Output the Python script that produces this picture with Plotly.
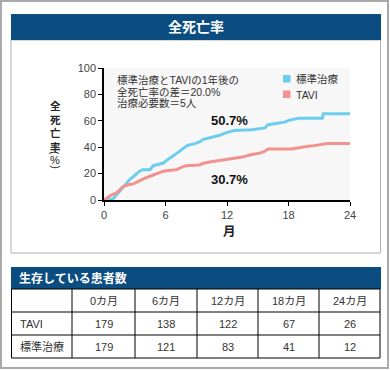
import plotly.graph_objects as go

# ---- data ----
std_months = [0, 0.5, 0.9, 1.2, 1.5, 1.8, 2.1, 2.5, 2.9, 3.2, 3.5, 3.8, 4.5, 4.8, 5.5, 5.8, 6.1, 6.5, 6.9,
              7.4, 7.8, 8.2, 8.8, 9.3, 9.7, 10.2, 10.8, 11.3, 11.8, 12.3, 12.7, 14.4, 15.0, 15.7, 16.0,
              16.8, 17.6, 18.1, 18.6, 19.0, 21.3, 21.4, 24]
std_rate = [0, 0, 1, 4, 6.5, 9, 12, 15.5, 18, 20, 22, 23, 23, 26, 27, 28, 30, 32, 34.5,
            37, 39.5, 41.5, 42.5, 44, 46, 47, 48, 49, 50.7, 52, 52.6, 53.3, 54, 54.6, 57,
            58, 59, 60.5, 61.5, 62, 62, 65.4, 65.4]
tavi_months = [0, 0.4, 0.75, 1.1, 1.4, 1.7, 1.9, 2.4, 2.85, 3.2, 3.5, 4.0, 4.5, 5.2, 5.8, 6.5, 7.1, 7.5,
               8.0, 9.3, 9.8, 10.3, 10.8, 11.5, 12.1, 12.7, 13.5, 14.4, 15.2, 15.7, 16.0, 18.3, 18.8,
               19.9, 20.5, 21.2, 21.8, 24]
tavi_rate = [0, 2, 4, 5, 6.5, 9, 10.3, 11.5, 12.2, 13.5, 14.7, 16.5, 18, 20, 21.8, 22.5, 23, 24.5,
             26, 26.5, 28, 28.8, 29.4, 30, 30.7, 31.9, 32.5, 34.4, 35.5, 36.9, 38.7, 38.7, 39.5,
             40.7, 41.2, 42, 42.8, 42.8]
x_ticks = [0, 6, 12, 18, 24]
y_ticks = [0, 20, 40, 60, 80, 100]
series_names = ["標準治療", "TAVI"]
note_lines = ["標準治療とTAVIの1年後の", "全死亡率の差＝20.0%", "治療必要数＝5人"]
label_std = "50.7%"
label_tavi = "30.7%"
y_title_chars = ["全", "死", "亡", "率"]
table_cols = ["0カ月", "6カ月", "12カ月", "18カ月", "24カ月"]
table_rows = ["TAVI", "標準治療"]
table_vals = [[179, 138, 122, 67, 26], [179, 121, 83, 41, 12]]

C_STD = "#6dcdee"
C_TAVI = "#f1928f"
BLUE = "#0b4d80"
FONT = "Liberation Sans, Noto Sans CJK JP, sans-serif"
TXT = "#333333"

W, H = 390, 370
L, R, T, B = 104, 350, 68, 200


def px(x):
    return (x - L) / (R - L)


def py(y):
    return (B - y) / (B - T)


fig = go.Figure()
fig.add_trace(go.Scatter(x=std_months, y=std_rate, mode="lines", name=series_names[0],
                         line=dict(color=C_STD, width=3), showlegend=False))
fig.add_trace(go.Scatter(x=tavi_months, y=tavi_rate, mode="lines", name=series_names[1],
                         line=dict(color=C_TAVI, width=3), showlegend=False))

shapes = []
ann = []


def rect(x0, y0, x1, y1, **kw):
    shapes.append(dict(type="rect", xref="paper", yref="paper", x0=px(x0), x1=px(x1),
                       y0=py(y0), y1=py(y1), **kw))


def line(x0, y0, x1, y1, color="#000", width=1):
    shapes.append(dict(type="line", xref="paper", yref="paper", x0=px(x0), x1=px(x1),
                       y0=py(y0), y1=py(y1), line=dict(color=color, width=width)))


def text(x, y, s, size=11, color=TXT, xanchor="left", bold=False, angle=0):
    if bold:
        s = "<b>" + s + "</b>"
    ann.append(dict(xref="paper", yref="paper", x=px(x), y=py(y), text=s, showarrow=False,
                    xanchor=xanchor, yanchor="middle", textangle=angle, borderpad=0,
                    font=dict(size=size, color=color, family=FONT)))


# outer border
rect(1, 1, 388, 368, line=dict(color="#aaaaaa", width=2))
# upper panel
rect(11, 40, 380.5, 253, line=dict(color="#b0b0b0", width=1))
rect(11, 14, 381, 40, fillcolor=BLUE, line=dict(width=0))
text(196, 27.5, "全死亡率", size=14, color="white", xanchor="center", bold=True)

# notes
for i, s in enumerate(note_lines):
    text(116, 80 + i * 11.7, s, size=10.5)
# legend
rect(283, 75, 290.5, 82.5, fillcolor=C_STD, line=dict(width=0))
rect(283, 90.5, 290.5, 98, fillcolor=C_TAVI, line=dict(width=0))
text(295, 79, series_names[0], size=10.5)
text(295, 94.5, series_names[1], size=10.5)
# value labels
text(210, 120.5, label_std, size=13, color="#111", bold=True)
text(210, 179, label_tavi, size=13, color="#111", bold=True)
# y title (vertical, stacked)
text(55, 126, "<br>".join(y_title_chars), size=10.5, color="#222", xanchor="center", bold=True)
text(55, 153, "(", size=10, color="#222", xanchor="center", angle=90)
text(55, 159.5, "%", size=11, color="#222", xanchor="center")
text(55, 166.5, ")", size=10, color="#222", xanchor="center", angle=90)
# x title
text(229.5, 232, "月", size=12.5, color="#222", xanchor="center", bold=True)

# lower table
rect(11, 267, 381, 289, fillcolor=BLUE, line=dict(width=0))
text(18, 278, "生存している患者数", size=12, color="white", bold=True)
col_x = [11.5, 72, 135, 197, 258, 319, 380]
row_y = [289, 312, 335, 358]
rect(col_x[0], row_y[0], col_x[-1], row_y[-1], line=dict(color="#000", width=1))
for cx in col_x[1:-1]:
    line(cx, row_y[0], cx, row_y[-1])
for ry in row_y[1:-1]:
    line(col_x[0], ry, col_x[-1], ry)
for j, c in enumerate(table_cols):
    text((col_x[j + 1] + col_x[j + 2]) / 2, (row_y[0] + row_y[1]) / 2, c, size=11, xanchor="center")
for i, rname in enumerate(table_rows):
    yc = (row_y[i + 1] + row_y[i + 2]) / 2
    text(19, yc, rname, size=11)
    for j, v in enumerate(table_vals[i]):
        text((col_x[j + 1] + col_x[j + 2]) / 2, yc, str(v), size=11, xanchor="center")

fig.update_layout(
    width=W, height=H,
    margin=dict(l=L, r=W - R, t=T, b=H - B, pad=0),
    paper_bgcolor="white", plot_bgcolor="#f7f7f7",
    shapes=shapes, annotations=ann,
    font=dict(family=FONT, size=11, color=TXT),
    xaxis=dict(range=[0, 24], tickvals=x_ticks, showline=True, linecolor="#000", linewidth=1.5,
               ticks="outside", ticklen=4, tickcolor="#000", showgrid=False, zeroline=False,
               tickfont=dict(size=11, color="#444"), fixedrange=True),
    yaxis=dict(range=[0, 100], tickvals=y_ticks, showline=True, linecolor="#000", linewidth=1.5,
               ticks="outside", ticklen=4, tickcolor="#000", showgrid=False, zeroline=False,
               tickfont=dict(size=11, color="#444"), fixedrange=True),
    showlegend=False,
)
fig.write_html("out.html", config={"displayModeBar": False},
               post_script="document.body.style.margin='0';")
